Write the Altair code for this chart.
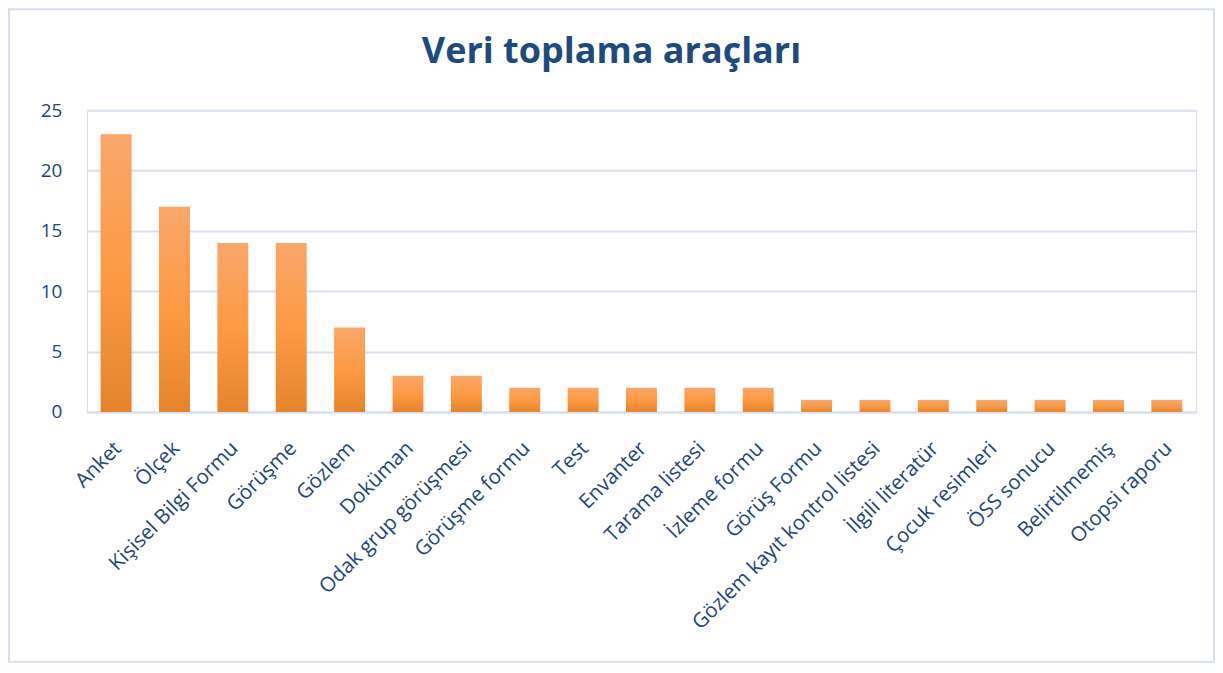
import altair as alt
import pandas as pd

categories = ["Anket", "Ölçek", "Kişisel Bilgi Formu", "Görüşme", "Gözlem", "Doküman",
              "Odak grup görüşmesi", "Görüşme formu", "Test", "Envanter", "Tarama listesi",
              "İzleme formu", "Görüş Formu", "Gözlem kayıt kontrol listesi", "İlgili literatür",
              "Çocuk resimleri", "ÖSS sonucu", "Belirtilmemiş", "Otopsi raporu"]
values = [23, 17, 14, 14, 7, 3, 3, 2, 2, 2, 2, 2, 1, 1, 1, 1, 1, 1, 1]
y_ticks = [0, 5, 10, 15, 20, 25]
title_text = "Veri toplama araçları"

df = pd.DataFrame({"cat": categories, "val": values})

FONT = "Open Sans"
TEXT = "#254679"
GRID = "#D7E1F0"

grad = alt.Gradient(
    gradient="linear",
    x1=0, x2=0, y1=0, y2=1,
    stops=[
        alt.GradientStop(color="#F9A76C", offset=0),
        alt.GradientStop(color="#FD9A43", offset=0.5),
        alt.GradientStop(color="#E6842E", offset=1),
    ],
)

bars = alt.Chart(df).mark_bar(color=grad).encode(
    x=alt.X("cat:N", sort=None, title=None,
            scale=alt.Scale(paddingInner=0.47, paddingOuter=0.235),
            axis=alt.Axis(labelAngle=-45, labelFont=FONT, labelFontSize=20.5,
                          labelColor=TEXT, ticks=False, domainColor=GRID,
                          domainWidth=2, labelPadding=26, labelOffset=-5,
                          labelLimit=400)),
    y=alt.Y("val:Q", title=None,
            scale=alt.Scale(domain=[0, 25], nice=False),
            axis=alt.Axis(values=y_ticks, labelFont=FONT, labelFontSize=19,
                          labelColor=TEXT, ticks=False, domain=False,
                          gridColor=GRID, gridWidth=2, labelPadding=25)),
)

border = alt.Chart(alt.Data(values=[{"a": 1}])).mark_rect(
    fill="transparent", stroke="#D5DFEE", strokeWidth=2
).encode(
    x=alt.value(-78), x2=alt.value(1128),
    y=alt.value(-101), y2=alt.value(552),
)

title = alt.Chart(alt.Data(values=[{"t": title_text}])).mark_text(
    font=FONT, fontSize=36, fontWeight="bold", color="#1F4A7E",
    align="center", baseline="middle"
).encode(
    text="t:N", x=alt.value(525), y=alt.value(-58),
)

chart = alt.layer(border, title, bars).properties(
    width=1110, height=302, padding=0,
).configure_view(stroke=None).configure(background="white")

chart.save("out.html", embed_options={"renderer": "svg", "actions": False})
